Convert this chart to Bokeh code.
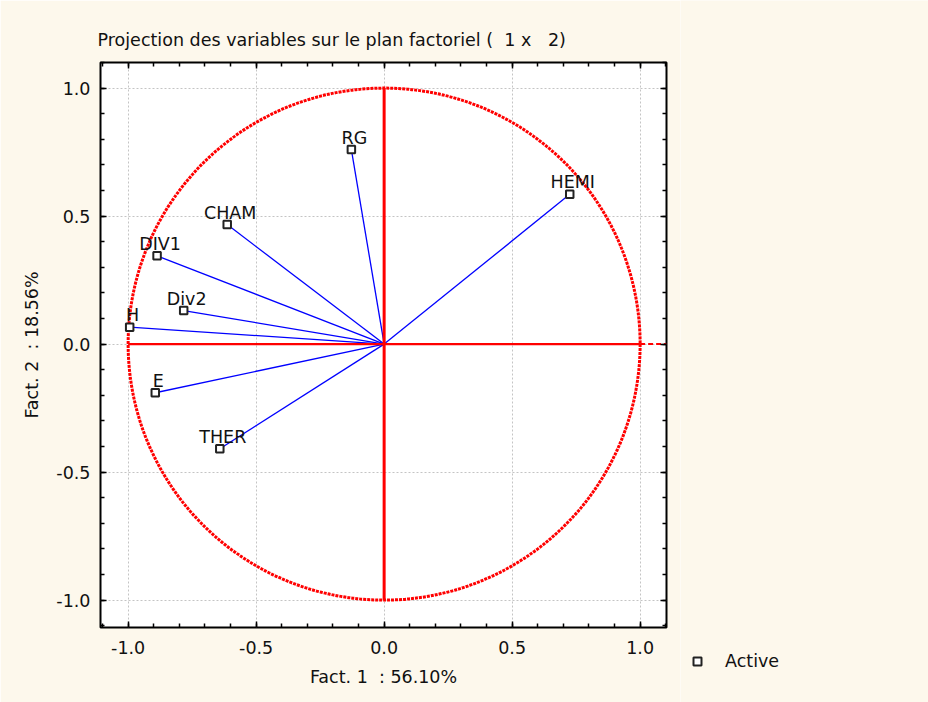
from bokeh.plotting import figure
from bokeh.layouts import row
from bokeh.models import (Range1d, FixedTicker, NumeralTickFormatter, LinearAxis,
                          Legend, LegendItem)
from bokeh.core.properties import value
from bokeh.embed import file_html
from bokeh.resources import INLINE

# ---- data ----
variables = ["RG", "HEMI", "CHAM", "DIV1", "Div2", "H", "E", "THER"]
fact1 = [-0.128, 0.725, -0.613, -0.887, -0.783, -0.994, -0.894, -0.642]
fact2 = [0.760, 0.585, 0.467, 0.345, 0.131, 0.066, -0.190, -0.409]
major_ticks = [-1.0, -0.5, 0.0, 0.5, 1.0]
minor_ticks = [round(-1.1 + 0.1 * i, 1) for i in range(23)]
NB = "\u00a0"
title_text = "Projection des variables sur le plan factoriel (" + NB * 2 + "1 x" + NB * 3 + "2)"
xlabel = "Fact. 1" + NB * 2 + ": 56.10%"
ylabel = "Fact. 2" + NB * 2 + ": 18.56%"
legend_label = "Active"

FONT = "DejaVu Sans"
FS = "17.5px"
BG = "#FDF8EC"
TXT = "#111111"

p = figure(width=680, height=702,
           x_range=Range1d(-1.108, 1.103), y_range=Range1d(-1.107, 1.100),
           output_backend="svg", toolbar_location=None,
           min_border_left=100, min_border_right=14,
           min_border_top=62, min_border_bottom=75,
           title=title_text,
           background_fill_color="white", border_fill_color=BG,
           outline_line_color="black", outline_line_width=2)
p.frame_align = False

p.title.text_font = FONT
p.title.text_font_size = FS
p.title.text_font_style = "normal"
p.title.text_color = TXT
p.title.align = "left"
p.title.offset = -3
p.title.standoff = 26

ticker = FixedTicker(ticks=major_ticks, minor_ticks=minor_ticks)


def style_axis(ax, show_labels=True):
    ax.ticker = ticker
    ax.formatter = NumeralTickFormatter(format="0.0")
    ax.axis_line_color = None
    ax.major_tick_in = 6
    ax.major_tick_out = 0
    ax.minor_tick_in = 4
    ax.minor_tick_out = 0
    ax.major_tick_line_color = "black"
    ax.minor_tick_line_color = "black"
    ax.major_tick_line_width = 1.5
    ax.minor_tick_line_width = 1.5
    ax.major_label_text_font = FONT
    ax.major_label_text_font_size = FS
    ax.major_label_text_color = TXT
    if show_labels:
        ax.axis_label_text_font = FONT
        ax.axis_label_text_font_size = FS
        ax.axis_label_text_font_style = "normal"
        ax.axis_label_text_color = TXT
    else:
        ax.major_label_overrides = {t: "" for t in major_ticks}
        ax.major_label_standoff = 0


style_axis(p.xaxis[0])
style_axis(p.yaxis[0])
p.xaxis[0].axis_label = xlabel
p.xaxis[0].major_label_standoff = 13
p.xaxis[0].axis_label_standoff = 10
p.yaxis[0].axis_label = ylabel
p.yaxis[0].major_label_standoff = 10
p.yaxis[0].axis_label_standoff = 11

top_ax = LinearAxis()
right_ax = LinearAxis()
style_axis(top_ax, False)
style_axis(right_ax, False)
p.add_layout(top_ax, "above")
p.add_layout(right_ax, "right")

for g in (p.xgrid[0], p.ygrid[0]):
    g.ticker = FixedTicker(ticks=major_ticks)
    g.grid_line_color = "#c4c4c4"
    g.grid_line_dash = "2 2"
    g.grid_line_width = 1

# vectors
p.segment(x0=[0] * len(fact1), y0=[0] * len(fact2), x1=fact1, y1=fact2,
          line_color="#0000FF", line_width=1.3)

# unit circle and its axes
p.circle(x=[0], y=[0], radius=[1], fill_color=None, line_color="#FF0000",
         line_width=3, line_dash="3 1")
p.segment(x0=[-1], y0=[0], x1=[1], y1=[0], line_color="#FF0000", line_width=2.2)
p.segment(x0=[1], y0=[0], x1=[1.103], y1=[0], line_color="#FF0000",
          line_width=2, line_dash="5 3")
p.segment(x0=[0], y0=[-1], x1=[0], y1=[1], line_color="#FF0000", line_width=3)

p.scatter(x=fact1, y=fact2, marker="square", size=7.5, line_width=2,
          line_color="#222222", fill_color="white")

p.text(x=fact1, y=fact2, text=variables, x_offset=3, y_offset=-12,
       text_align="center", text_baseline="alphabetic",
       text_font=value(FONT), text_font_size=FS, text_color=TXT)

# ---- legend panel ----
lg = figure(width=248, height=702, output_backend="svg", toolbar_location=None,
            x_axis_location=None, y_axis_location=None,
            x_range=Range1d(0, 1), y_range=Range1d(0, 1),
            min_border=0, outline_line_color=None,
            background_fill_color=BG, border_fill_color=BG)
lg.frame_align = False
lg.grid.visible = False
dummy = lg.scatter(x=[0.5], y=[0.5], marker="square", size=7.5, line_width=2,
                   line_color="#222222", fill_color="white", visible=False)
legend = Legend(items=[LegendItem(label=legend_label, renderers=[dummy])],
                location=(7, 31), border_line_color=None,
                background_fill_alpha=0, padding=0, margin=0,
                glyph_width=20, glyph_height=20, label_standoff=18,
                inactive_fill_alpha=0,
                label_text_font=FONT, label_text_font_size=FS,
                label_text_color=TXT)
lg.add_layout(legend, "center")

open("out.html", "w").write(file_html(row(p, lg), INLINE))
